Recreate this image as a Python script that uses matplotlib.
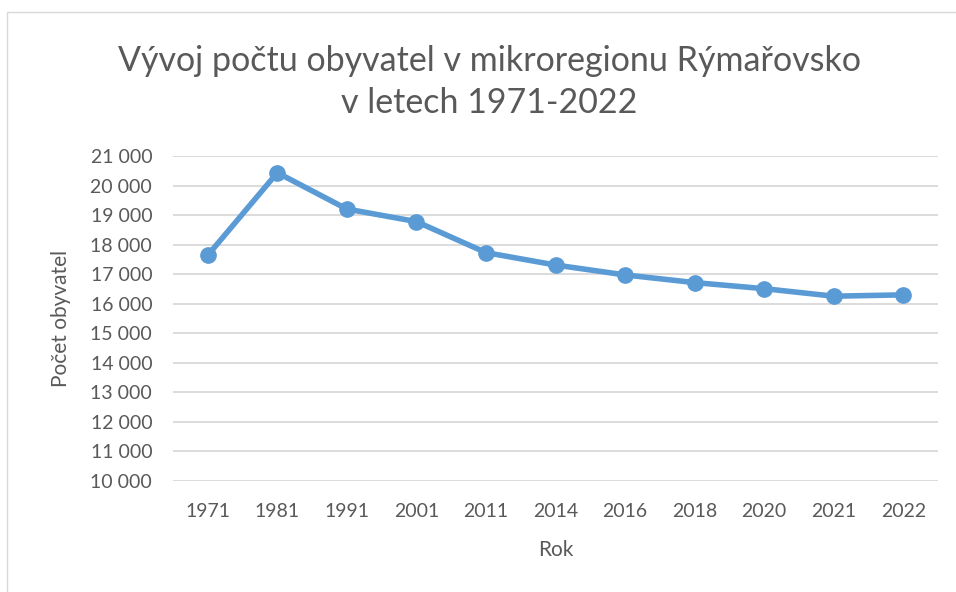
import matplotlib.pyplot as plt
from matplotlib.patches import Rectangle

plt.rcParams['font.family'] = ['Lato', 'DejaVu Sans']

years = ["1971", "1981", "1991", "2001", "2011", "2014", "2016", "2018", "2020", "2021", "2022"]
population = [17640, 20435, 19205, 18780, 17730, 17310, 16975, 16715, 16510, 16255, 16300]

y_ticks = list(range(10000, 21001, 1000))
y_labels = [f"{v:,}".replace(",", " ") for v in y_ticks]

text_color = "#595959"
line_color = "#5B9BD5"

fig = plt.figure(figsize=(9.56, 5.92), dpi=100)

# chart frame like in the spreadsheet export
fig.patches.append(Rectangle((7 / 956, -0.1), 1.1, (592 - 12) / 592 + 0.1,
                             transform=fig.transFigure, fill=False,
                             edgecolor="#D9D9D9", linewidth=1))

ax = fig.add_axes([173 / 956, 1 - 481 / 592, (938 - 173) / 956, (481 - 156) / 592])

x = list(range(len(years)))
ax.plot(x, population, color=line_color, linewidth=4, marker="o",
        markersize=11, solid_capstyle="round", zorder=3)

ax.set_xlim(-0.5, len(years) - 0.5)
ax.set_ylim(10000, 21000)
ax.set_yticks(y_ticks)
ax.set_yticklabels(y_labels)
ax.set_xticks(x)
ax.set_xticklabels(years)

ax.grid(axis="y", color="#D9D9D9", linewidth=1.3)
ax.set_axisbelow(True)
for s in ax.spines.values():
    s.set_visible(False)
ax.tick_params(length=0, labelsize=14, colors=text_color)
ax.tick_params(axis="y", pad=15)
ax.tick_params(axis="x", pad=16)

ax.set_xlabel("Rok", fontsize=15, color=text_color, labelpad=14)
ax.set_ylabel("Počet obyvatel", fontsize=15, color=text_color, labelpad=14)

fig.text(489 / 956, 1 - 82 / 592, "Vývoj počtu obyvatel v mikroregionu Rýmařovsko\nv letech 1971-2022",
         ha="center", va="center", fontsize=24.5, color=text_color, linespacing=1.4)

fig.savefig("out.png", dpi=100)
